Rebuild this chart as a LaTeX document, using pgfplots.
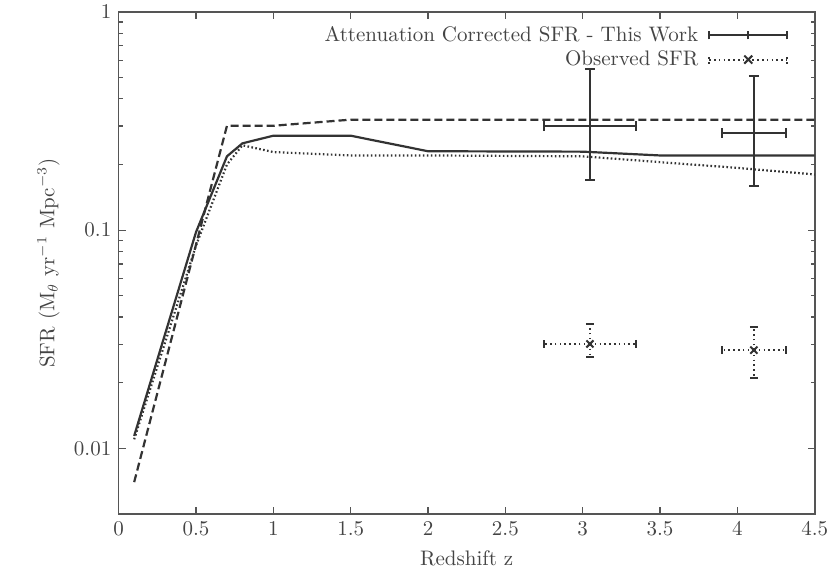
\documentclass[border=0pt]{standalone}
\usepackage{pgfplots}
\pgfplotsset{compat=1.18}
\definecolor{ln}{HTML}{333333}
\definecolor{ax}{HTML}{555555}
\definecolor{tx}{HTML}{444444}
\begin{document}
\fontsize{10.5}{12}\selectfont
\begin{tikzpicture}
\path[use as bounding box] (-59.35pt,-37pt) rectangle (355.65pt,257pt);
\begin{axis}[
  at={(0,0)}, anchor=south west,
  scale only axis, width=348pt, height=251pt,
  ymode=log, xmin=0, xmax=4.5, ymin=0.005, ymax=1,
  xtick={0,0.5,...,4.5},
  xticklabels={0,0.5,1,1.5,2,2.5,3,3.5,4,4.5},
  ytick={0.01,0.1,1}, yticklabels={0.01,0.1,1},
  major tick length=3.5pt, minor tick length=2pt,
  tick style={ax, line width=0.6pt},
  axis line style={ax, line width=0.8pt},
  tick label style={font=\fontsize{10.5}{12}\selectfont, text=tx},
  label style={font=\fontsize{10.5}{12}\selectfont, text=tx},
  xlabel={Redshift z},
  ylabel={SFR (M$_{\mathrm{\theta}}$ yr$^{-1}$ Mpc$^{-3}$)},
  legend plot pos=right,
  legend cell align=right,
  legend style={at={(1,1)}, anchor=north east, xshift=-10pt, yshift=-3pt, draw=none, fill=none,
    font=\fontsize{10.5}{12}\selectfont, text=tx, row sep=-1pt, column sep=3pt},
]
% legend images
\addlegendimage{legend image code/.code={
  \draw[ln, line width=1pt] (0pt,0pt) -- (39pt,0pt);
  \draw[ln, line width=1pt] (0pt,-2pt) -- (0pt,2pt);
  \draw[ln, line width=1pt] (19.5pt,-2pt) -- (19.5pt,2pt);
  \draw[ln, line width=1pt] (39pt,-2pt) -- (39pt,2pt);}}
\addlegendentry{Attenuation Corrected SFR - This Work}
\addlegendimage{legend image code/.code={
  \draw[ln, line width=1pt, dash pattern=on 0.8pt off 1.6pt] (0pt,0pt) -- (39pt,0pt);
  \draw[ln, line width=1pt, dash pattern=on 0.8pt off 1.6pt] (0pt,-2pt) -- (0pt,2pt);
  \draw[ln, line width=1pt, dash pattern=on 0.8pt off 1.6pt] (39pt,-2pt) -- (39pt,2pt);
  \draw[ln, line width=1pt] (17.5pt,-2pt) -- (21.5pt,2pt) (17.5pt,2pt) -- (21.5pt,-2pt);}}
\addlegendentry{Observed SFR}
% model curves
\addplot[forget plot, ln, line width=1.1pt] coordinates {
 (0.1,0.0114) (0.5,0.098) (0.7,0.218) (0.8,0.25) (1.0,0.271) (1.5,0.271)
 (2.0,0.23) (3.0,0.229) (3.5,0.22) (4.5,0.22)};
\addplot[forget plot, ln, line width=1.1pt, dash pattern=on 4pt off 2pt] coordinates {
 (0.1,0.0070) (0.7,0.301) (1.0,0.301) (1.5,0.321) (4.5,0.321)};
\addplot[forget plot, ln, line width=1.1pt, dash pattern=on 0.8pt off 1.2pt] coordinates {
 (0.1,0.0110) (0.5,0.085) (0.7,0.20) (0.8,0.245) (1.0,0.228) (1.5,0.22)
 (2.0,0.22) (3.0,0.218) (3.5,0.205) (4.0,0.193) (4.5,0.18)};
% data with error bars
\addplot[forget plot, draw=none, mark=none,
  error bars/.cd, x dir=both, x explicit, y dir=both, y explicit,
  error bar style={draw=ln, solid, line width=1pt},
  error mark options={draw=ln, solid, line width=1pt, mark size=2.5pt, rotate=90}]
 coordinates {
 (3.047,0.300) += (0.30,0.248) -= (0.30,0.130)
 (4.107,0.279) += (0.205,0.231) -= (0.205,0.119)
 };
\addplot[forget plot, ln, line width=1pt, only marks, mark=x, mark size=2.5pt,
  error bars/.cd, x dir=both, x explicit, y dir=both, y explicit,
  error bar style={ln, line width=1pt, dash pattern=on 0.8pt off 1.6pt},
  error mark options={ln, line width=1pt, mark size=2pt, rotate=90}]
 coordinates {
 (3.047,0.0301) += (0.30,0.0071) -= (0.30,0.0040)
 (4.107,0.0282) += (0.205,0.0079) -= (0.205,0.0073)
 };
\end{axis}
\end{tikzpicture}
\end{document}
